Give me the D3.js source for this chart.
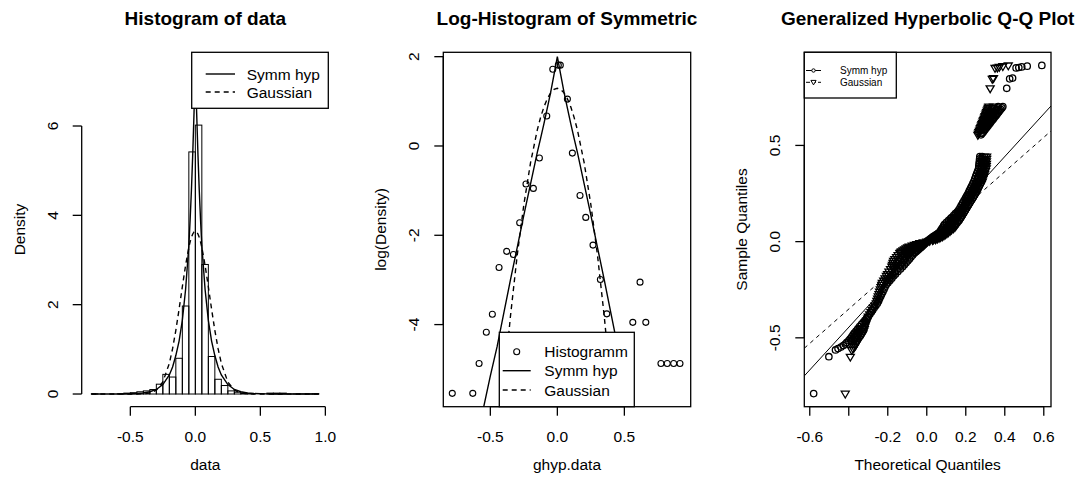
<!DOCTYPE html>
<html><head><meta charset="utf-8">
<script src="https://cdn.jsdelivr.net/npm/d3@7"></script>
<style>body{margin:0;background:#fff}svg{display:block}text{font-family:"Liberation Sans",Arial,Helvetica,sans-serif;fill:#000}</style>
</head><body><svg id="c" width="1087" height="488"></svg>
<script>
// ---------- DATA ----------
// Panel 1: histogram (density) of data
const histBreaks = [-0.8,-0.75,-0.7,-0.65,-0.6,-0.55,-0.5,-0.45,-0.4,-0.35,-0.3,-0.25,-0.2,-0.15,-0.1,-0.05,0,0.05,0.1,0.15,0.2,0.25,0.3,0.35,0.4,0.45,0.5,0.55,0.6,0.65,0.7,0.75,0.8,0.85,0.9,0.95];
const histDensity = [0.003,0,0,0,0.006,0.02,0.03,0.05,0.07,0.10,0.22,0.44,0.38,0.80,1.97,5.42,6.02,2.90,0.84,0.33,0.19,0.07,0.04,0.02,0.01,0,0,0.02,0.02,0.02,0,0.003,0.003,0.003,0.006];
const curveX = [-0.8,-0.7,-0.6,-0.55,-0.5,-0.45,-0.4,-0.35,-0.3,-0.25,-0.2,-0.175,-0.15,-0.125,-0.1,-0.075,-0.05,-0.04,-0.03,-0.02,-0.01,0,0.01,0.02,0.03,0.04,0.05,0.075,0.1,0.125,0.15,0.175,0.2,0.25,0.3,0.35,0.4,0.45,0.5,0.55,0.6,0.7,0.8,0.95];
const symmDensity = [0.0001,0.0003,0.0014,0.0029,0.0058,0.011,0.0235,0.050,0.102,0.212,0.427,0.607,0.861,1.185,1.649,2.34,3.32,3.90,4.57,5.37,6.30,7.39,6.30,5.37,4.57,3.90,3.32,2.34,1.649,1.185,0.861,0.607,0.427,0.212,0.102,0.050,0.0235,0.011,0.0058,0.0029,0.0014,0.0003,0.0001,0];
const gaussDensity = [0,0,0,0,0.0001,0.0008,0.0046,0.022,0.0854,0.269,0.687,1.016,1.426,1.899,2.401,2.881,3.282,3.408,3.509,3.583,3.628,3.643,3.628,3.583,3.509,3.408,3.282,2.881,2.401,1.899,1.426,1.016,0.687,0.269,0.0854,0.022,0.0046,0.0008,0.0001,0,0,0,0,0];

// Panel 2: log-histogram
const logHistX = [-0.784,-0.631,-0.584,-0.530,-0.485,-0.435,-0.378,-0.328,-0.281,-0.234,-0.179,-0.134,-0.079,-0.034,0.007,0.022,0.075,0.112,0.169,0.212,0.266,0.321,0.369,0.563,0.617,0.660,0.773,0.820,0.868,0.915];
const logHistY = [-5.54,-5.54,-4.87,-4.17,-3.77,-2.72,-2.36,-2.43,-1.72,-0.85,-0.95,-0.27,0.67,1.72,1.81,1.81,1.05,-0.16,-1.11,-1.60,-2.22,-2.99,-3.76,-3.95,-3.05,-3.95,-4.87,-4.87,-4.87,-4.87];
const logCurveX = [-0.6,-0.55,-0.5,-0.45,-0.4,-0.35,-0.3,-0.25,-0.2,-0.15,-0.125,-0.1,-0.075,-0.05,-0.025,0,0.025,0.05,0.075,0.1,0.125,0.15,0.2,0.25,0.3,0.35,0.4,0.45,0.5,0.55,0.6];
const logSymm = [-6.55,-5.85,-5.15,-4.5,-3.75,-3.0,-2.28,-1.55,-0.85,-0.15,0.17,0.5,0.85,1.2,1.6,2.0,1.6,1.2,0.85,0.5,0.17,-0.15,-0.85,-1.55,-2.28,-3.0,-3.75,-4.5,-5.15,-5.85,-6.55];
const logGauss = [-13.7,-11.32,-9.13,-7.15,-5.379,-3.815,-2.46,-1.313,-0.375,0.355,0.641,0.876,1.058,1.189,1.267,1.293,1.267,1.189,1.058,0.876,0.641,0.355,-0.375,-1.313,-2.46,-3.815,-5.379,-7.15,-9.13,-11.32,-13.7];

// Panel 3: Q-Q plot (sample quantiles shared; theoretical quantiles per fitted model)
// (the last blocks are tied sample values that fill the dense band)
const qqSample = [
 -0.790,-0.598,-0.563,-0.556,-0.548,-0.540,-0.532,-0.524,
 -0.515,-0.505,-0.495,-0.485,-0.476,
 -0.465,-0.454,-0.442,-0.430,-0.420,-0.410,-0.400,-0.390,
 -0.378,-0.366,-0.355,-0.343,-0.332,-0.320,
 -0.308,-0.296,-0.284,-0.272,-0.260,-0.248,-0.236,-0.224,-0.214,-0.202,-0.190,-0.178,-0.168,-0.155,-0.142,-0.130,
 -0.120,-0.110,-0.100,-0.090,-0.080,-0.070,-0.060,
 -0.055,-0.050,-0.045,-0.040,-0.035,-0.030,-0.025,-0.020,-0.016,-0.012,-0.008,-0.004,0.000,
 0.004,0.008,0.012,0.016,0.020,0.024,0.028,0.033,0.038,0.043,0.048,
 0.055,0.062,0.069,0.076,0.083,0.090,0.100,0.110,0.120,0.125,
 0.135,0.145,0.155,0.165,0.177,0.189,0.201,0.213,0.225,0.234,0.243,
 0.255,0.266,0.278,0.289,0.301,0.312,0.326,0.340,0.353,0.367,0.381,0.393,0.405,0.418,0.430,0.442,
 0.555,0.562,0.569,0.576,0.583,0.590,0.597,0.604,0.611,0.618,0.625,0.632,0.639,0.646,0.653,0.660,0.667,0.674,0.681,0.688,0.695,0.702,
 0.797,0.846,0.850,0.903,0.905,0.908,0.912,0.916,
 -0.515,-0.505,-0.495,-0.485,-0.476,-0.465,-0.454,
 -0.202,-0.190,-0.178,-0.168,-0.155,-0.142,-0.130,-0.120,-0.110,-0.100,-0.090,-0.080,-0.070,-0.060,-0.055,-0.050,-0.045,-0.040,-0.035,-0.030,-0.025,-0.020,-0.016,-0.012,
 0.012,0.016,0.020,0.024,0.028,0.033,0.038,0.043,0.048,0.055,0.062,0.069,0.076,0.083,0.090,0.100,0.110,0.120,0.125,0.135,0.145,0.155,0.165,0.177,0.189,0.201,0.213,0.225,0.234,0.243,0.255,0.266,0.278,0.289,0.301,0.312,0.326,0.340,0.353,0.367,0.381,0.393,0.405,0.418,0.430,0.442,
 0.590,0.597,0.604,0.611,0.618,0.625,0.632,0.639,0.646,0.653,0.660,0.667,0.674,0.681,0.688,0.695,0.702];
const qqSymm = [
 -0.580,-0.502,-0.468,-0.455,-0.440,-0.428,-0.418,-0.410,
 -0.400,-0.393,-0.385,-0.378,-0.372,
 -0.363,-0.354,-0.345,-0.335,-0.326,-0.318,-0.309,-0.300,
 -0.292,-0.284,-0.277,-0.269,-0.261,-0.253,
 -0.247,-0.242,-0.236,-0.231,-0.225,-0.219,-0.214,-0.208,-0.199,-0.189,-0.179,-0.169,-0.160,-0.148,-0.135,-0.124,
 -0.115,-0.106,-0.097,-0.089,-0.081,-0.072,-0.064,
 -0.058,-0.053,-0.047,-0.041,-0.036,-0.030,-0.025,-0.020,-0.016,-0.012,-0.008,-0.004,0.000,
 0.005,0.010,0.015,0.020,0.025,0.030,0.035,0.043,0.051,0.058,0.066,
 0.070,0.074,0.079,0.083,0.087,0.091,0.101,0.112,0.122,0.127,
 0.137,0.146,0.156,0.164,0.171,0.177,0.184,0.191,0.198,0.203,0.208,
 0.214,0.219,0.225,0.230,0.236,0.241,0.246,0.251,0.256,0.261,0.266,0.267,0.268,0.270,0.271,0.272,
 0.278,0.283,0.289,0.294,0.299,0.305,0.310,0.315,0.321,0.326,0.331,0.337,0.342,0.347,0.353,0.358,0.363,0.369,0.374,0.379,0.385,0.390,
 0.410,0.425,0.440,0.458,0.472,0.487,0.515,0.590,
 -0.385,-0.378,-0.370,-0.363,-0.357,-0.350,-0.343,
 -0.200,-0.191,-0.182,-0.174,-0.163,-0.152,-0.142,-0.135,-0.128,-0.121,-0.114,-0.106,-0.097,-0.089,-0.083,-0.079,-0.072,-0.065,-0.059,-0.053,-0.047,-0.038,-0.032,-0.025,
 0.025,0.031,0.038,0.044,0.050,0.058,0.066,0.073,0.081,0.086,0.092,0.098,0.103,0.108,0.112,0.121,0.131,0.140,0.145,0.153,0.161,0.170,0.177,0.184,0.191,0.198,0.205,0.212,0.217,0.222,0.228,0.233,0.239,0.245,0.251,0.256,0.260,0.265,0.270,0.274,0.279,0.280,0.281,0.282,0.283,0.284,
 0.295,0.299,0.304,0.308,0.313,0.317,0.322,0.326,0.330,0.335,0.339,0.344,0.348,0.353,0.357,0.362,0.366];
const qqGauss = [
 -0.418,-0.392,-0.385,-0.378,-0.372,-0.367,-0.362,-0.358,
 -0.355,-0.348,-0.340,-0.333,-0.327,
 -0.324,-0.320,-0.317,-0.313,-0.310,-0.307,-0.303,-0.300,
 -0.293,-0.286,-0.280,-0.273,-0.266,-0.259,
 -0.256,-0.252,-0.249,-0.245,-0.242,-0.238,-0.234,-0.231,-0.228,-0.221,-0.214,-0.207,-0.201,-0.194,-0.186,-0.179,
 -0.176,-0.173,-0.170,-0.164,-0.155,-0.147,-0.138,
 -0.134,-0.130,-0.122,-0.114,-0.106,-0.098,-0.090,-0.075,-0.063,-0.051,-0.036,-0.018,0.000,
 0.015,0.030,0.045,0.054,0.063,0.071,0.080,0.088,0.095,0.103,0.110,
 0.119,0.127,0.136,0.144,0.149,0.154,0.162,0.169,0.177,0.180,
 0.186,0.192,0.198,0.204,0.211,0.218,0.225,0.233,0.240,0.246,0.251,
 0.257,0.262,0.268,0.274,0.280,0.285,0.289,0.293,0.297,0.301,0.305,0.305,0.306,0.306,0.307,0.307,
 0.262,0.265,0.267,0.270,0.273,0.275,0.278,0.281,0.283,0.286,0.289,0.291,0.294,0.297,0.299,0.302,0.305,0.307,0.310,0.313,0.315,0.318,
 0.325,0.336,0.342,0.350,0.362,0.372,0.390,0.418,
 -0.370,-0.363,-0.355,-0.348,-0.342,-0.337,-0.331,
 -0.210,-0.202,-0.194,-0.187,-0.179,-0.169,-0.161,-0.156,-0.151,-0.146,-0.139,-0.130,-0.122,-0.113,-0.109,-0.104,-0.097,-0.090,-0.083,-0.075,-0.068,-0.057,-0.047,-0.038,
 0.035,0.043,0.050,0.057,0.065,0.073,0.080,0.088,0.095,0.103,0.109,0.117,0.124,0.128,0.133,0.142,0.150,0.159,0.162,0.170,0.177,0.184,0.191,0.198,0.204,0.211,0.219,0.226,0.232,0.237,0.243,0.248,0.254,0.259,0.265,0.270,0.275,0.279,0.283,0.288,0.292,0.292,0.293,0.294,0.295,0.295,
 0.285,0.289,0.292,0.296,0.299,0.303,0.306,0.310,0.314,0.317,0.321,0.324,0.328,0.331,0.335,0.338,0.342];
// Q-Q reference lines (end points)
const qqLineX = [-0.628,0.637];
const qqLineSymmY = [-0.698,0.705];
const qqLineGaussY = [-0.554,0.575];

// Axis ticks
const p1XTicks = [-0.5,0,0.5,1.0], p1XLabels = ["-0.5","0.0","0.5","1.0"];
const p1YTicks = [0,2,4,6], p1YLabels = ["0","2","4","6"];
const p2XTicks = [-0.5,0,0.5], p2XLabels = ["-0.5","0.0","0.5"];
const p2YTicks = [-4,-2,0,2], p2YLabels = ["-4","-2","0","2"];
const p3XTicks = [-0.6,-0.4,-0.2,0,0.2,0.4,0.6], p3XLabels = ["-0.6","","-0.2","0.0","0.2","0.4","0.6"];
const p3YTicks = [-0.5,0,0.5], p3YLabels = ["-0.5","0.0","0.5"];

// ---------- DRAWING ----------
const svg = d3.select("#c");
const LW = 1.3, TICK = 9, FS = 15.5;
const P1 = {x0:81.7,x1:329,y0:52.3,y1:406.7};
const P2 = {x0:443.3,x1:690.7,y0:52.3,y1:406.7};
const P3 = {x0:804.3,x1:1051,y0:52.3,y1:406.7};

const x1 = d3.scaleLinear([-0.874,1.028],[P1.x0,P1.x1]);
const y1 = d3.scaleLinear([-0.284,7.65],[P1.y1,P1.y0]);
const x2 = d3.scaleLinear([-0.851,0.995],[P2.x0,P2.x1]);
const y2 = d3.scaleLinear([-5.839,2.098],[P2.y1,P2.y0]);
const x3 = d3.scaleLinear([-0.628,0.637],[P3.x0,P3.x1]);
const y3 = d3.scaleLinear([-0.858,0.984],[P3.y1,P3.y0]);

const defs = svg.append("defs");
[["clip2",P2],["clip3",P3]].forEach(([id,P])=>{
  defs.append("clipPath").attr("id",id).append("rect")
    .attr("x",P.x0).attr("y",P.y0).attr("width",P.x1-P.x0).attr("height",P.y1-P.y0);
});

function axisBottom(sc, ticks, labels, y){
  const g = svg.append("g");
  g.append("line").attr("x1",sc(ticks[0])).attr("x2",sc(ticks[ticks.length-1]))
    .attr("y1",y).attr("y2",y).attr("stroke","#000").attr("stroke-width",LW);
  ticks.forEach((t,i)=>{
    g.append("line").attr("x1",sc(t)).attr("x2",sc(t)).attr("y1",y).attr("y2",y+TICK)
      .attr("stroke","#000").attr("stroke-width",LW);
    if(labels[i]) g.append("text").attr("x",sc(t)).attr("y",y+35).attr("text-anchor","middle")
      .attr("font-size",FS).text(labels[i]);
  });
}
function axisLeft(sc, ticks, labels, x){
  const g = svg.append("g");
  g.append("line").attr("y1",sc(ticks[0])).attr("y2",sc(ticks[ticks.length-1]))
    .attr("x1",x).attr("x2",x).attr("stroke","#000").attr("stroke-width",LW);
  ticks.forEach((t,i)=>{
    g.append("line").attr("y1",sc(t)).attr("y2",sc(t)).attr("x1",x).attr("x2",x-TICK)
      .attr("stroke","#000").attr("stroke-width",LW);
    g.append("text").attr("transform",`translate(${x-24},${sc(t)}) rotate(-90)`)
      .attr("text-anchor","middle").attr("font-size",FS).text(labels[i]);
  });
}
function titles(P, title, xlab, ylab){
  const cx = (P.x0+P.x1)/2, cy=(P.y0+P.y1)/2;
  svg.append("text").attr("x",cx).attr("y",24.5).attr("text-anchor","middle")
    .attr("font-size",19).attr("font-weight","bold").text(title);
  svg.append("text").attr("x",cx).attr("y",469.5).attr("text-anchor","middle")
    .attr("font-size",FS).text(xlab);
  svg.append("text").attr("transform",`translate(${P.x0-57.2},${cy}) rotate(-90)`)
    .attr("text-anchor","middle").attr("font-size",FS).text(ylab);
}
function box(P){
  svg.append("rect").attr("x",P.x0).attr("y",P.y0).attr("width",P.x1-P.x0).attr("height",P.y1-P.y0)
    .attr("fill","none").attr("stroke","#000").attr("stroke-width",LW);
}
const triPath = "M-4,-2.4L4,-2.4L0,4.4Z";

// ----- Panel 1 -----
const bins = histDensity.map((d,i)=>({a:histBreaks[i],b:histBreaks[i+1],d}));
svg.append("g").selectAll("rect").data(bins).join("rect")
  .attr("x",d=>x1(d.a)).attr("width",d=>x1(d.b)-x1(d.a))
  .attr("y",d=>y1(d.d)).attr("height",d=>y1(0)-y1(d.d))
  .attr("fill","none").attr("stroke","#000").attr("stroke-width",1);
const line1 = d3.line().x(d=>x1(d[0])).y(d=>y1(d[1]));
svg.append("path").attr("d",line1(curveX.map((x,i)=>[x,symmDensity[i]])))
  .attr("fill","none").attr("stroke","#000").attr("stroke-width",1.4);
svg.append("path").attr("d",line1(curveX.map((x,i)=>[x,gaussDensity[i]])))
  .attr("fill","none").attr("stroke","#000").attr("stroke-width",1.4).attr("stroke-dasharray","5,4");
axisBottom(x1,p1XTicks,p1XLabels,P1.y1);
axisLeft(y1,p1YTicks,p1YLabels,P1.x0);
titles(P1,"Histogram of data","data","Density");
{
  const g = svg.append("g");
  g.append("rect").attr("x",191.7).attr("y",52.3).attr("width",136.6).attr("height",56)
    .attr("fill","#fff").attr("stroke","#000").attr("stroke-width",LW);
  [["Symm hyp",null,74],["Gaussian","5,4",92]].forEach(([t,da,yy])=>{
    const l=g.append("line").attr("x1",205.7).attr("x2",235).attr("y1",yy).attr("y2",yy)
      .attr("stroke","#000").attr("stroke-width",1.4);
    if(da) l.attr("stroke-dasharray",da);
    g.append("text").attr("x",246.7).attr("y",yy+5.5).attr("font-size",FS).text(t);
  });
}

// ----- Panel 2 -----
const g2 = svg.append("g").attr("clip-path","url(#clip2)");
const line2 = d3.line().x(d=>x2(d[0])).y(d=>y2(d[1]));
g2.append("path").attr("d",line2(logCurveX.map((x,i)=>[x,logSymm[i]])))
  .attr("fill","none").attr("stroke","#000").attr("stroke-width",1.4);
g2.append("path").attr("d",line2(logCurveX.map((x,i)=>[x,logGauss[i]])))
  .attr("fill","none").attr("stroke","#000").attr("stroke-width",1.4).attr("stroke-dasharray","5,4");
g2.selectAll("circle").data(logHistX.map((x,i)=>[x,logHistY[i]])).join("circle")
  .attr("cx",d=>x2(d[0])).attr("cy",d=>y2(d[1])).attr("r",3)
  .attr("fill","none").attr("stroke","#000").attr("stroke-width",1.1);
box(P2);
axisBottom(x2,p2XTicks,p2XLabels,P2.y1);
axisLeft(y2,p2YTicks,p2YLabels,P2.x0);
titles(P2,"Log-Histogram of Symmetric","ghyp.data","log(Density)");
{
  const g = svg.append("g");
  g.append("rect").attr("x",499.3).attr("y",332.3).attr("width",135).attr("height",74.4)
    .attr("fill","#fff").attr("stroke","#000").attr("stroke-width",LW);
  g.append("circle").attr("cx",516.7).attr("cy",351.7).attr("r",3).attr("fill","none")
    .attr("stroke","#000").attr("stroke-width",1.1);
  g.append("text").attr("x",544.3).attr("y",357.2).attr("font-size",FS).text("Histogramm");
  [["Symm hyp",null,370.7],["Gaussian","5,4",390]].forEach(([t,da,yy])=>{
    const l=g.append("line").attr("x1",502.7).attr("x2",530.7).attr("y1",yy).attr("y2",yy)
      .attr("stroke","#000").attr("stroke-width",1.4);
    if(da) l.attr("stroke-dasharray",da);
    g.append("text").attr("x",544.3).attr("y",yy+5.5).attr("font-size",FS).text(t);
  });
}

// ----- Panel 3 -----
const g3 = svg.append("g").attr("clip-path","url(#clip3)");
const nQ = Math.min(qqSample.length, qqSymm.length, qqGauss.length);
const qqIdx = d3.range(nQ);
g3.append("g").selectAll("circle").data(qqIdx).join("circle")
  .attr("cx",i=>x3(qqSymm[i])).attr("cy",i=>y3(qqSample[i])).attr("r",3.2)
  .attr("fill","none").attr("stroke","#000").attr("stroke-width",1.3);
g3.append("g").selectAll("path").data(qqIdx).join("path")
  .attr("d",triPath).attr("transform",i=>`translate(${x3(qqGauss[i])},${y3(qqSample[i])})`)
  .attr("fill","none").attr("stroke","#000").attr("stroke-width",1.3);
const line3 = d3.line().x(d=>x3(d[0])).y(d=>y3(d[1]));
g3.append("path").attr("d",line3(qqLineX.map((x,i)=>[x,qqLineSymmY[i]])))
  .attr("fill","none").attr("stroke","#000").attr("stroke-width",1);
g3.append("path").attr("d",line3(qqLineX.map((x,i)=>[x,qqLineGaussY[i]])))
  .attr("fill","none").attr("stroke","#000").attr("stroke-width",1).attr("stroke-dasharray","4,4");
box(P3);
axisBottom(x3,p3XTicks,p3XLabels,P3.y1);
axisLeft(y3,p3YTicks,p3YLabels,P3.x0);
titles(P3,"Generalized Hyperbolic Q-Q Plot","Theoretical Quantiles","Sample Quantiles");
{
  const g = svg.append("g");
  g.append("rect").attr("x",804.3).attr("y",52.3).attr("width",92).attr("height",45.7)
    .attr("fill","#fff").attr("stroke","#000").attr("stroke-width",LW);
  g.append("line").attr("x1",806).attr("x2",821).attr("y1",70.5).attr("y2",70.5)
    .attr("stroke","#000").attr("stroke-width",1);
  g.append("circle").attr("cx",813.5).attr("cy",70.5).attr("r",1.7).attr("fill","#fff")
    .attr("stroke","#000").attr("stroke-width",1);
  g.append("line").attr("x1",806).attr("x2",821).attr("y1",82.3).attr("y2",82.3)
    .attr("stroke","#000").attr("stroke-width",1).attr("stroke-dasharray","4,2");
  g.append("path").attr("d","M-2.6,-1.6L2.6,-1.6L0,2.9Z").attr("transform","translate(813.5,82)")
    .attr("fill","#fff").attr("stroke","#000").attr("stroke-width",1);
  g.append("text").attr("x",840).attr("y",74).attr("font-size",10).text("Symm hyp");
  g.append("text").attr("x",840).attr("y",85.8).attr("font-size",10).text("Gaussian");
}
</script></body></html>
